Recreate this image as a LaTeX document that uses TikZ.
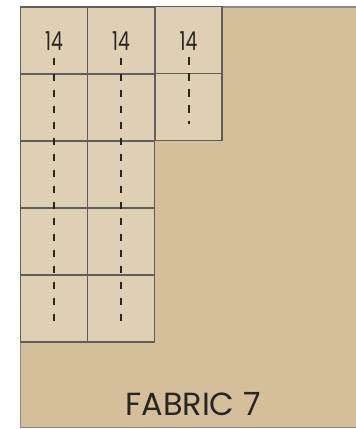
\documentclass[tikz,border=0pt]{standalone}
\usepackage{fontspec}
\setmainfont{Poppins}
\usepackage{xcolor}
\usetikzlibrary{positioning}

\definecolor{fabric}{HTML}{D5BF9B}
\definecolor{piece}{HTML}{E0D0B3}
\definecolor{edge}{HTML}{5E5E5E}
\definecolor{rim}{HTML}{8A8A8A}

\begin{document}
\begin{tikzpicture}[
    x=1pt, y=-1pt,
    cell/.style  = {rectangle, draw=edge, fill=piece,
                    line width=1.2pt, minimum size=67pt,
                    inner sep=0pt, outer sep=0pt},
    cut/.style   = {font=\fontsize{26}{26}\selectfont,
                    inner sep=0pt, text=black!85},
    seam/.style  = {line width=2pt, black!85,
                    dash pattern=on 7.5pt off 8.5pt},
    title/.style = {font=\fontsize{32}{32}\selectfont,
                    inner sep=0pt, text=black!85}
]
\useasboundingbox (0,0) rectangle (356,429);

%% Fabric
\fill[fabric] (20.5,7) rectangle (360,427.5);
\draw[rim, line width=1.5pt] (360,7) -- (20.5,7) -- (20.5,427.5) -- (360,427.5);

%% Pieces, columns 1 and 2
\foreach \c in {1,2} {
  \foreach \r in {1,...,5} {
    \node[cell] (c\c\r) at ({20.5+67*(\c-1)+33.5}, {7+67*(\r-1)+33.5}) {};
  }
}
%% Pieces, column 3
\node[cell] (c31) at (188.5, 40.3) {};
\node[cell, below=0pt of c31] (c32) {};

%% Cut labels
\foreach \c in {1,2,3} {
  \node[cut] (lbl\c) at ([yshift=-0.5pt]c\c1.center) {\scalebox{0.72}[1]{14}};
}

%% Seam lines
\coordinate (end1) at ([yshift=-12pt]c15.center);
\coordinate (end2) at ([yshift=-12pt]c25.center);
\coordinate (end3) at ([yshift=-17pt]c32.center);
\foreach \c in {1,2,3} {
  \draw[seam] ([yshift=-7pt]lbl\c.south) -- (end\c);
}

%% Fabric name
\node[title] (name) at (193, 404) {FABRIC 7};
\end{tikzpicture}
\end{document}
